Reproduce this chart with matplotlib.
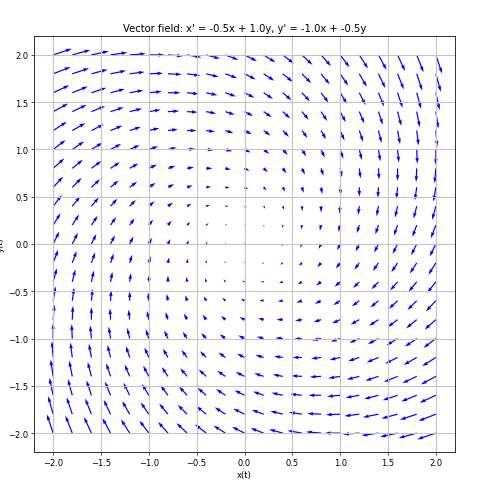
import numpy as np
import matplotlib
matplotlib.use('Agg')
import matplotlib.pyplot as plt

# linear system x' = a*x + b*y, y' = c*x + d*y
a, b = -0.5, 1.0
c, d = -1.0, -0.5

# grid of sample points
x_vals = np.linspace(-2.0, 2.0, 21)
y_vals = np.linspace(-2.0, 2.0, 21)

X, Y = np.meshgrid(x_vals, y_vals)
U = a * X + b * Y
V = c * X + d * Y

fig = plt.figure(figsize=(481 / 60, 490 / 60), dpi=60)
ax = fig.add_axes([34 / 481, 37 / 490, 421 / 481, 416 / 490])

ax.quiver(X, Y, U, V, color='blue')

ax.set_xlim(-2.2, 2.2)
ax.set_ylim(-2.2, 2.2)
ax.set_title(f"Vector field: x' = {a}x + {b}y, y' = {c}x + {d}y")
ax.set_xlabel('x(t)')
ax.set_ylabel('y(t)')
ax.grid(True, color='#c4c4c4', linewidth=1.3)
for spine in ax.spines.values():
    spine.set_linewidth(1.2)
    spine.set_color('#333333')

fig.savefig('out.png', dpi=60)
